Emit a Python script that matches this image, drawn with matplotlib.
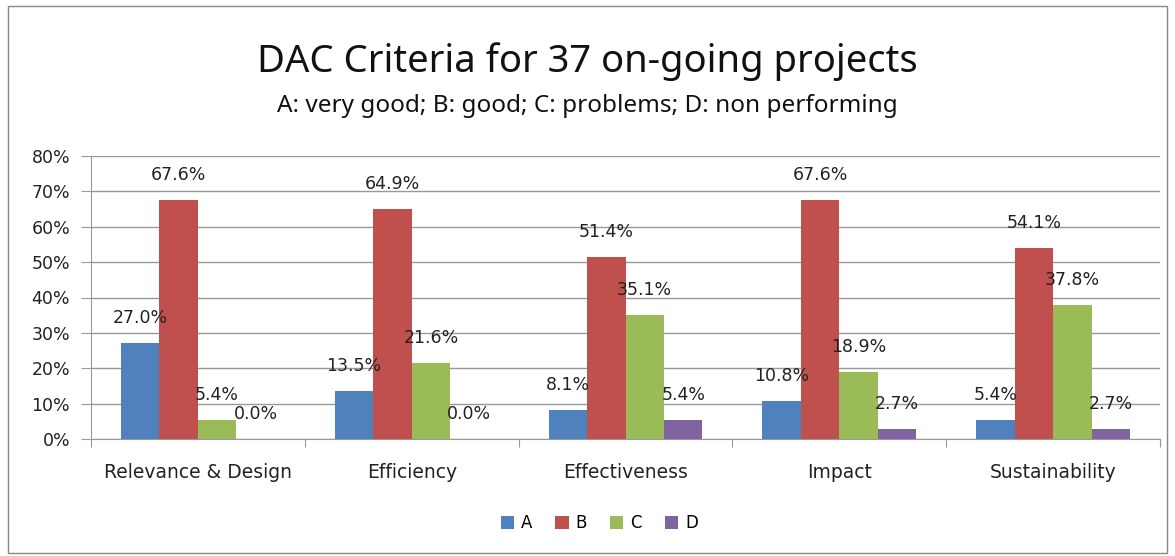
import numpy as np
import matplotlib
matplotlib.use('Agg')
import matplotlib.pyplot as plt
from matplotlib.patches import Rectangle

plt.rcParams['font.family'] = ['DejaVu Sans']

# Data
categories = ['Relevance & Design', 'Efficiency', 'Effectiveness', 'Impact', 'Sustainability']
series_names = ['A', 'B', 'C', 'D']
a_vals = [27.0, 13.5, 8.1, 10.8, 5.4]
b_vals = [67.6, 64.9, 51.4, 67.6, 54.1]
c_vals = [5.4, 21.6, 35.1, 18.9, 37.8]
d_vals = [0.0, 0.0, 5.4, 2.7, 2.7]
colors = ['#4F81BD', '#C0504D', '#9BBB59', '#8064A2']

fig = plt.figure(figsize=(11.75, 5.56), dpi=100)
ax = fig.add_axes([91 / 1175, 1 - 439 / 556, (1160 - 91) / 1175, (439 - 156) / 556])

x = np.arange(len(categories))
width = 0.18
all_vals = [a_vals, b_vals, c_vals, d_vals]
for i, (vals, name, col) in enumerate(zip(all_vals, series_names, colors)):
    pos = x + (i - 1.5) * width
    ax.bar(pos, np.array(vals) / 100, width, color=col, label=name)
    for p, v in zip(pos, vals):
        ax.annotate(f'{v:.1f}%', (p, v / 100), xytext=(0, 25), textcoords='offset pixels',
                    ha='center', va='center', fontsize=12.5, color='#222222')

ax.set_xlim(-0.5, len(categories) - 0.5)
ax.set_ylim(0, 0.8)
ticks = np.arange(0, 0.81, 0.1)
ax.set_yticks(ticks)
ax.set_yticklabels([f'{int(round(t * 100))}%' for t in ticks], fontsize=12.5, color='#222222')
ax.yaxis.grid(True, color='#999999', linewidth=1)
ax.set_axisbelow(True)

# boundary ticks on x axis, category names centred between them
ax.set_xticks(np.arange(-0.5, len(categories)))
ax.set_xticklabels([])
ax.tick_params(axis='x', length=6, color='#999999', direction='out')
ax.tick_params(axis='y', length=7, color='#999999', direction='out', pad=8)
for xi, cat in zip(x, categories):
    ax.text(xi, -0.095, cat, ha='center', va='center', fontsize=13.5, color='#222222')

for s in ['top', 'right']:
    ax.spines[s].set_visible(False)
for s in ['left', 'bottom']:
    ax.spines[s].set_color('#999999')

fig.text(0.5, 1 - 62 / 556, 'DAC Criteria for 37 on-going projects', ha='center', va='center',
         fontsize=27.5, family='Noto Sans', color='#111111')
fig.text(0.5, 1 - 106 / 556, 'A: very good; B: good; C: problems; D: non performing',
         ha='center', va='center', fontsize=17.5, family='Noto Sans', color='#111111')

fig.legend(loc='center', bbox_to_anchor=(0.51, 1 - 523 / 556), ncol=4, frameon=False,
           fontsize=12, handlelength=0.8, handleheight=0.8, handletextpad=0.4,
           columnspacing=1.4)

fig.patches.append(Rectangle((8 / 1175, 0.005), 1 - 16 / 1175, 0.985, transform=fig.transFigure,
                             fill=False, edgecolor='#888888', linewidth=1))

fig.savefig('out.png', dpi=100)
